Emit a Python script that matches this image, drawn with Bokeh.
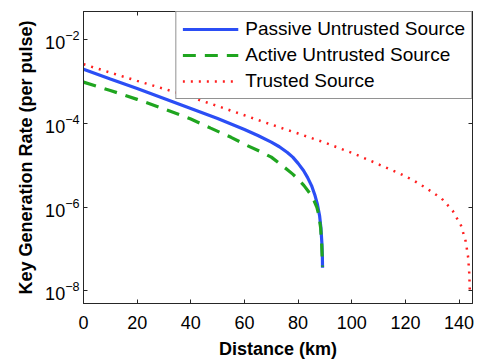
from bokeh.plotting import figure
from bokeh.models import (Range1d, FixedTicker, LinearAxis, LogAxis, Legend, LegendItem,
                          CustomJSTickFormatter)
from bokeh.embed import file_html
from bokeh.resources import INLINE

# Data
passive_km = [0, 10, 20, 30, 40, 50, 60, 65, 70, 73, 76, 78, 80, 82, 83.5, 85, 86.2, 87.2, 88, 88.5,
              88.85, 89.05, 89.1]
passive_rate = [2.0e-3, 1.17e-3, 6.9e-4, 4.0e-4, 2.3e-4, 1.32e-4, 7.2e-5, 5.2e-5, 3.6e-5, 2.8e-5, 2.04e-5,
                1.58e-5, 1.12e-5, 7.6e-6, 5.2e-6, 3.3e-6, 2.0e-6, 1.17e-6, 6.3e-7, 3.2e-7, 1.41e-7,
                6.3e-8, 3.6e-8]

active_km = [0, 10, 20, 30, 40, 47.4, 55, 61, 66, 70, 73, 76, 78, 80, 82.2, 84.5, 86, 87, 87.7, 88.4,
             88.8, 89.1]
active_rate = [9.8e-4, 6.2e-4, 3.8e-4, 2.24e-4, 1.29e-4, 7.8e-5, 4.7e-5, 3.0e-5, 2.14e-5, 1.58e-5, 1.12e-5,
               7.9e-6, 6.2e-6, 4.7e-6, 3.3e-6, 2.1e-6, 1.41e-6, 1.0e-6, 6.6e-7, 3.2e-7, 1.26e-7, 3.8e-8]

trusted_km = [0, 10, 20, 30, 40, 50, 60, 70, 80, 90, 100, 106, 112, 117.7, 123, 128.2, 133.5, 137.6,
              140.7, 142.5, 143.4, 143.8, 144.0]
trusted_rate = [2.63e-3, 1.66e-3, 1.05e-3, 6.8e-4, 4.3e-4, 2.63e-4, 1.58e-4, 9.5e-5, 5.8e-5, 3.5e-5, 2.0e-5,
                1.38e-5, 9.3e-6, 6.5e-6, 4.4e-6, 2.75e-6, 1.62e-6, 8.3e-7, 3.7e-7, 1.51e-7, 6.2e-8,
                2.6e-8, 1.0e-8]

x_ticks = [0, 20, 40, 60, 80, 100, 120, 140]
y_ticks = [1e-8, 1e-6, 1e-4, 1e-2]

FONT = "Liberation Sans"
AX = "#262626"

p = figure(width=482, height=361, output_backend="svg", toolbar_location=None,
           y_axis_type="log", x_range=Range1d(0, 145), y_range=Range1d(10**-8.3, 10**-1.32),
           min_border_left=83, min_border_right=10, min_border_top=11, min_border_bottom=51)
p.grid.visible = False
p.outline_line_color = AX
p.outline_line_width = 1
p.background_fill_color = "white"
p.border_fill_color = "white"

def style(ax, labels=True):
    ax.axis_line_color = AX
    ax.major_tick_line_color = AX
    ax.minor_tick_line_color = None
    ax.major_tick_in = 4
    ax.major_tick_out = 0
    ax.major_label_text_font = FONT
    ax.major_label_text_font_size = "18px"
    ax.major_label_text_color = "black"
    ax.axis_label_text_font = FONT
    ax.axis_label_text_font_size = "18px"
    ax.axis_label_text_font_style = "bold"
    ax.axis_label_text_color = "black"
    if not labels:
        ax.formatter = CustomJSTickFormatter(code="return ''")
        ax.major_label_standoff = 0

xa = p.xaxis[0]
xa.ticker = FixedTicker(ticks=x_ticks, minor_ticks=[])
xa.axis_label = "Distance (km)"
style(xa)
xa.major_label_standoff = 12
xa.axis_label_standoff = 7

ya = p.yaxis[0]
ya.ticker = FixedTicker(ticks=y_ticks, minor_ticks=[])
ya.axis_label = "Key Generation Rate (per pulse)"
style(ya)
ya.major_label_standoff = 4
ya.axis_label_standoff = 6

top = LinearAxis(ticker=FixedTicker(ticks=x_ticks, minor_ticks=[]))
style(top, labels=False)
p.add_layout(top, "above")
right = LogAxis(ticker=FixedTicker(ticks=y_ticks, minor_ticks=[]))
style(right, labels=False)
p.add_layout(right, "right")

r1 = p.line(passive_km, passive_rate, line_color="#2B4EF5", line_width=3.2)
r2 = p.line(active_km, active_rate, line_color="#1FA51F", line_width=3.2, line_dash="13 9")
r3 = p.line(trusted_km, trusted_rate, line_color="#FF2020", line_width=2.5, line_dash="2 6")

legend = Legend(items=[LegendItem(label="Passive Untrusted Source", renderers=[r1]),
                       LegendItem(label="Active Untrusted Source", renderers=[r2]),
                       LegendItem(label="Trusted Source", renderers=[r3])],
                location="top_right", margin=0, padding=6, spacing=4,
                glyph_width=56, glyph_height=22, label_standoff=7,
                label_text_font=FONT, label_text_font_size="19px", label_text_color="black",
                border_line_color=AX, border_line_width=1, background_fill_alpha=1)
p.add_layout(legend, "center")

open("out.html", "w").write(file_html(p, INLINE))
